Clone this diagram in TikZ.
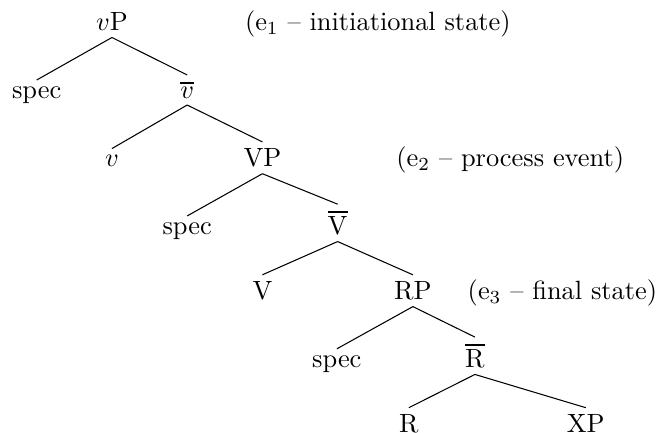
\documentclass[tikz,border=0pt]{standalone}
\usepackage{amsmath}
\usepackage{tikz}
\usetikzlibrary{positioning,trees}

% bar-level labels with a heavier bar
\newcommand{\barred}[1]{\leavevmode\vbox{\hrule height 0.8pt\kern1.3pt\hbox{#1}}}

\begin{document}
\begin{tikzpicture}[level distance=29pt, sibling distance=57pt,
    every node/.style={anchor=base, inner sep=2.3pt},
    edge from parent path={(\tikzparentnode.south) -- (\tikzchildnode.north)},
    level 5/.style={grow via three points={one child at (0,-29pt) and
      two children at (-28.8pt,-29pt) and (23.5pt,-29pt)}},
    level 6/.style={grow via three points={one child at (0,-29pt) and
      two children at (-25pt,-29pt) and (42pt,-29pt)}}]
    \useasboundingbox (-42.4pt,-152.3pt) rectangle (206.1pt,11.7pt);

    \node (vP) {$v$P}
    child{node (spec1) {spec}}
    child{node (vbar) {\barred{$v$}}
      child{node (v) {$v$}}
      child{node (VP) {VP}
        child{node (spec2) {spec}}
        child{node (Vbar) {\barred{V}}
          child{node (V) {V}}
          child{node (RP) {RP}
            child{node (spec3) {spec}}
            child{node (Rbar) {\barred{R}}
              child{node (R) {R}} child{node (XP) {XP}} } } } } };

    % event labels
    \node (e1) [base right=39.4pt of vP] {(e$_1$ -- initiational state)};
    \node (e2) [base right=38.6pt of VP] {(e$_2$ -- process event)};
    \node (e3) [base right=8.7pt of RP] {(e$_3$ -- final state)};
  \end{tikzpicture}
\end{document}
